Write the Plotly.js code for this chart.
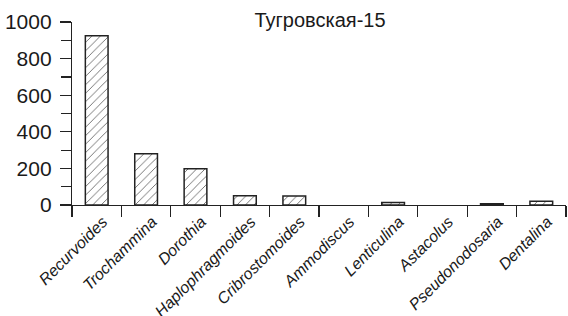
<!DOCTYPE html>
<html><head><meta charset="utf-8">
<script src="https://cdn.plot.ly/plotly-3.0.1.min.js"></script>
<style>html,body{margin:0;padding:0;background:#fff;}#chart{width:568px;height:316px;}</style>
</head><body><div id="chart"></div>
<script>
const categories = ["Recurvoides","Trochammina","Dorothia","Haplophragmoides","Cribrostomoides","Ammodiscus","Lenticulina","Astacolus","Pseudonodosaria","Dentalina"];
const counts = [925, 280, 198, 50, 49, 0, 14, 0, 7, 20];
const yTicks = [0, 200, 400, 600, 800, 1000];
const chartTitle = "Тугровская-15";

const trace = {
  type: "bar",
  x: categories,
  y: counts,
  width: 0.46,
  marker: {
    color: "#ffffff",
    line: {color: "#222222", width: counts.map(v => v > 0 ? 1.5 : 0)},
    pattern: {shape: "/", fgcolor: "#444444", bgcolor: "#ffffff", size: 6, solidity: 0.12}
  },
  hoverinfo: "none"
};

const layout = {
  width: 568, height: 316,
  margin: {l: 72, r: 2, t: 22, b: 111},
  paper_bgcolor: "#fff", plot_bgcolor: "#fff",
  showlegend: false,
  font: {family: "Liberation Sans, Arial, sans-serif", color: "#1a1a1a"},
  title: {text: chartTitle, x: 320/568, xanchor: "center", y: 1 - 20/316, yanchor: "middle", yref: "container",
          font: {size: 20, color: "#1a1a1a"}},
  xaxis: {
    type: "category",
    range: [-0.5, 9.5],
    showline: true, linecolor: "#222", linewidth: 1.2,
    ticks: "outside", tickson: "boundaries", ticklen: 11, tickcolor: "#222", tickwidth: 1.2,
    tickangle: -45,
    ticklabelshift: 6,
    ticklabelstandoff: 0,
    tickfont: {size: 16, style: "italic", color: "#1a1a1a"},
    showgrid: false, zeroline: false
  },
  yaxis: {
    range: [0, 1000],
    tickvals: yTicks,
    ticktext: yTicks.map(String),
    showline: true, linecolor: "#222", linewidth: 1.2,
    ticks: "outside", ticklen: 11, tickcolor: "#222", tickwidth: 1.2,
    ticklabelstandoff: 4,
    minor: {dtick: 100, ticks: "outside", ticklen: 10, tickcolor: "#222", tickwidth: 1.2, showgrid: false},
    tickfont: {size: 21, color: "#1a1a1a"},
    showgrid: false, zeroline: false
  }
};

Plotly.newPlot("chart", [trace], layout, {staticPlot: true, displayModeBar: false});
</script></body></html>
